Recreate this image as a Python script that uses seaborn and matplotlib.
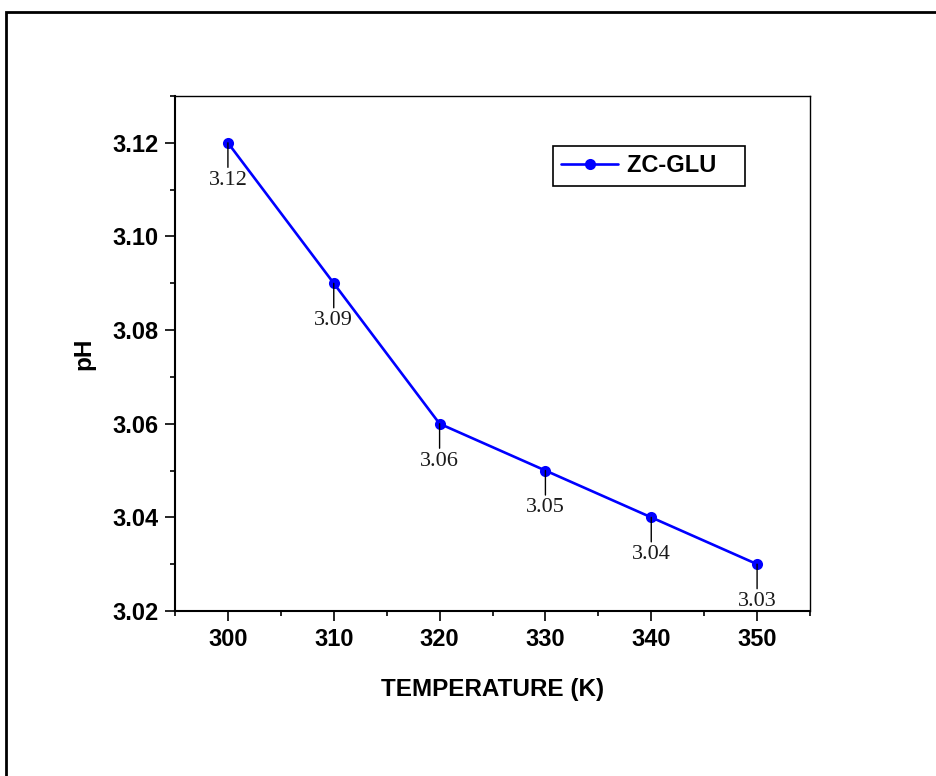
import matplotlib
matplotlib.use("Agg")
import matplotlib.pyplot as plt
from matplotlib.patches import Rectangle
from matplotlib.ticker import MultipleLocator
import seaborn as sns
import pandas as pd

# Solution pH of ZC-GLU at different temperatures
temperature = [300, 310, 320, 330, 340, 350]
ph_values = [3.12, 3.09, 3.06, 3.05, 3.04, 3.03]
series_name = "ZC-GLU"

df = pd.DataFrame({"TEMPERATURE (K)": temperature, "pH": ph_values, "series": series_name})

sns.set_style("ticks")
plt.rcParams["font.family"] = ["Liberation Sans", "DejaVu Sans"]
plt.rcParams["text.color"] = "black"
plt.rcParams["axes.labelcolor"] = "black"
plt.rcParams["xtick.color"] = "black"
plt.rcParams["ytick.color"] = "black"

fig = plt.figure(figsize=(9.36, 7.76), dpi=100)
ax = fig.add_axes([175 / 936, 1 - 611 / 776, (810 - 175) / 936, (611 - 96) / 776])

sns.lineplot(data=df, x="TEMPERATURE (K)", y="pH", hue="series",
             palette=["#0000FF"], marker="o", markersize=8, markeredgewidth=0,
             linewidth=1.9, ax=ax)

ax.set_xlim(295, 355)
ax.set_ylim(3.02, 3.13)
ax.xaxis.set_major_locator(MultipleLocator(10))
ax.xaxis.set_minor_locator(MultipleLocator(5))
ax.yaxis.set_major_locator(MultipleLocator(0.02))
ax.yaxis.set_minor_locator(MultipleLocator(0.01))
ax.yaxis.set_major_formatter(plt.FormatStrFormatter("%.2f"))

ax.tick_params(which="major", direction="out", length=7, width=1.2,
               labelsize=17, top=False, right=False, pad=5, colors="black")
ax.tick_params(which="minor", direction="out", length=3.6, width=1.2,
               top=False, right=False, colors="black")
for lbl in ax.get_xticklabels() + ax.get_yticklabels():
    lbl.set_fontweight("bold")

for side in ["left", "bottom"]:
    ax.spines[side].set_linewidth(1.5)
for side in ["top", "right"]:
    ax.spines[side].set_linewidth(1.0)
    ax.spines[side].set_visible(True)
for s in ax.spines.values():
    s.set_color("black")

ax.set_xlabel("TEMPERATURE (K)", fontsize=17.5, fontweight="bold", labelpad=20)
ax.set_ylabel("pH", fontsize=17.5, fontweight="bold", labelpad=12)

# value callouts under each point
for t, v in zip(temperature, ph_values):
    ax.annotate(f"{v:.2f}", xy=(t, v), xytext=(0, -20), textcoords="offset points",
                ha="center", va="top", fontsize=16, family="Liberation Serif",
                color="#1a1a1a",
                arrowprops=dict(arrowstyle="-", color="black", lw=1.0,
                                shrinkA=0, shrinkB=0))

handles, labels = ax.get_legend_handles_labels()
leg = ax.legend(handles, [lab + "   " for lab in labels],
                loc="upper left", bbox_to_anchor=(553 / 936, 1 - 146 / 776),
                bbox_transform=fig.transFigure, frameon=True, fancybox=False,
                prop={"family": "Liberation Sans", "weight": "bold", "size": 17},
                handlelength=2.4, borderpad=0.35, handletextpad=0.4,
                borderaxespad=0)
leg.get_frame().set_edgecolor("black")
leg.get_frame().set_linewidth(1.2)
leg.get_frame().set_alpha(1)

# outer frame around the figure
fig.patches.append(Rectangle((6 / 936, -0.1), 1.2, 1 - 12 / 776 + 0.1,
                             transform=fig.transFigure, fill=False,
                             edgecolor="black", linewidth=2.0))

fig.savefig("out.png", dpi=100, facecolor="white")
